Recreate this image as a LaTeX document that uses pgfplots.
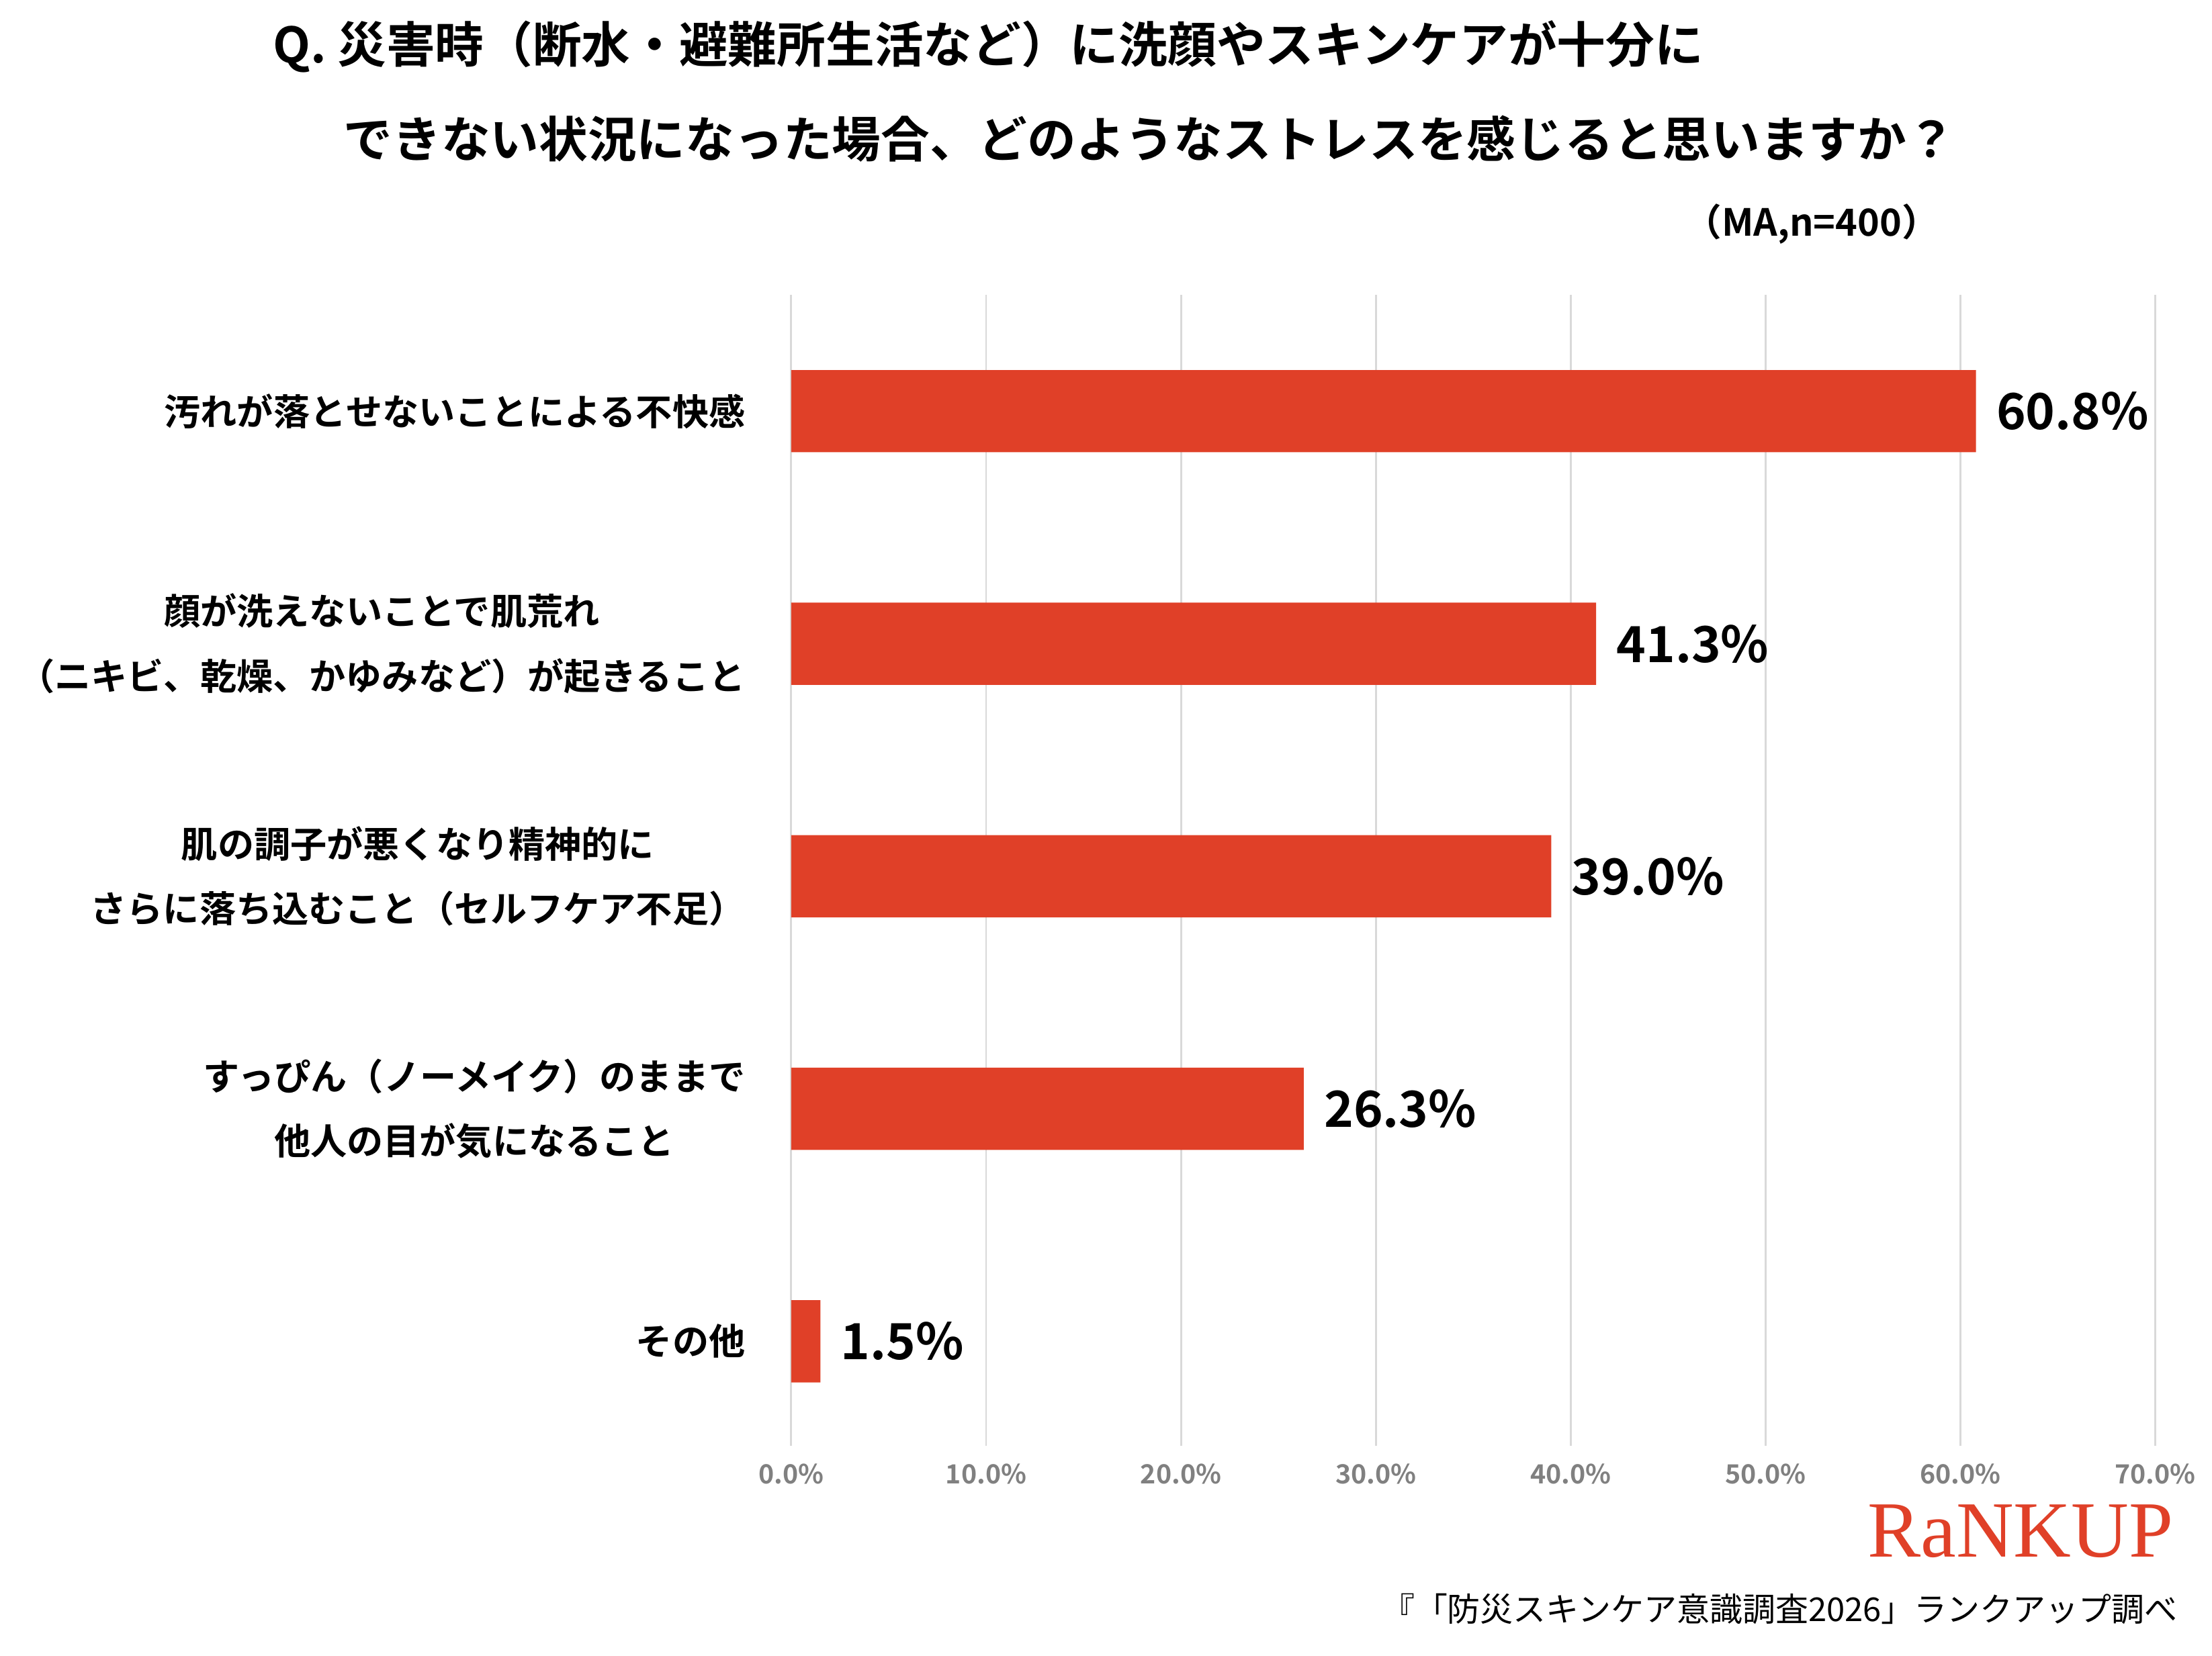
\documentclass[border=0pt]{standalone}
\usepackage{pgfplots}
\pgfplotsset{compat=1.18}
\usepackage{fontspec}
\setmainfont{Noto Sans CJK JP}[BoldFont={* Bold}]
\newfontfamily\logofont{Liberation Serif}
\definecolor{bar}{HTML}{E04028}
\begin{document}
\begin{tikzpicture}
\path[use as bounding box] (0,0) rectangle (15.6,-11.68);
\begin{axis}[at={(5.58cm,-10.20cm)},anchor=south west,scale only axis,
 width=9.62cm,height=8.12cm,xmin=0,xmax=70,ymin=-0.5,ymax=4.45,y dir=reverse,
 xbar,bar width=0.58cm,axis line style={draw=none},
 xmajorgrids,grid style={gray!30},xtick={0,10,...,70},
 xticklabel={\pgfmathprintnumber[fixed,fixed zerofill,precision=1]{\tick}\%},
 xticklabel style={font=\bfseries\fontsize{5.3}{6}\selectfont,text=gray},
 /pgf/number format/assume math mode=true,
 major tick length=0pt,
 ytick={0,1,2,3,4},
 yticklabels={汚れが落とせないことによる不快感,
 {顔が洗えないことで肌荒れ\\（ニキビ、乾燥、かゆみなど）が起きること},
 {肌の調子が悪くなり精神的に\\さらに落ち込むこと（セルフケア不足）},
 {すっぴん（ノーメイク）のままで\\他人の目が気になること},
 その他},
 yticklabel style={font=\bfseries\fontsize{7.3}{13}\selectfont,align=center,xshift=-0.2cm},
 nodes near coords={\pgfmathprintnumber[fixed,fixed zerofill,precision=1]{\pgfplotspointmeta}\%},
 nodes near coords style={font=\bfseries\fontsize{10}{12}\selectfont,xshift=0.02cm},
 point meta=x]
\addplot[fill=bar,draw=none] coordinates {(60.8,0) (41.3,1) (39.0,2) (26.3,3) (1.5,4)};
\end{axis}
\node[anchor=west,font=\bfseries\fontsize{9.8}{12}\selectfont] at (1.8,-0.33) {Q. 災害時（断水・避難所生活など）に洗顔やスキンケアが十分に};
\node[anchor=west,font=\bfseries\fontsize{9.8}{12}\selectfont] at (2.3,-0.98) {できない状況になった場合、どのようなストレスを感じると思いますか？};
\node[anchor=east,font=\bfseries\fontsize{7.5}{9}\selectfont] at (13.8,-1.58) {（MA,n=400）};
\node[anchor=east,text=bar,font=\logofont\fontsize{16}{18}\selectfont] at (15.45,-10.8) {RaNKUP};
\node[anchor=east,font=\fontsize{6.6}{8}\selectfont] at (15.48,-11.35) {『「防災スキンケア意識調査2026」ランクアップ調べ};
\end{tikzpicture}
\end{document}
